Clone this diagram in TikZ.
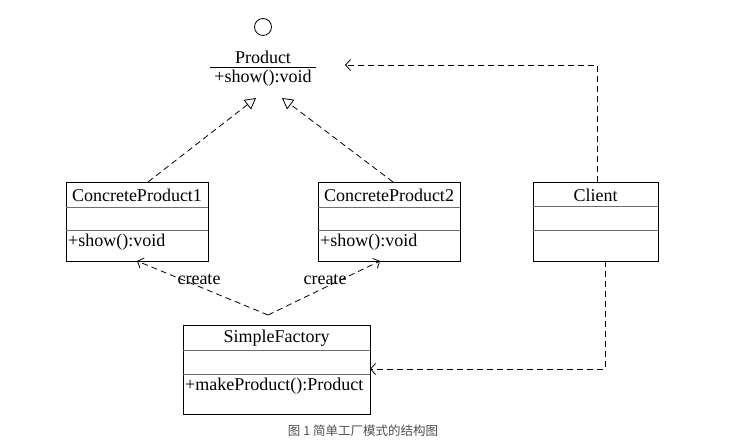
\documentclass[tikz,border=0pt]{standalone}
\usepackage{fontspec}
\setmainfont{Liberation Serif}
\newfontfamily\cjk{Noto Sans CJK SC}
\usetikzlibrary{arrows.meta}
\definecolor{capgray}{RGB}{80,80,80}
\definecolor{divgray}{RGB}{110,110,110}
\tikzset{
  clsbox/.style={draw, line width=0.9pt, rectangle, inner sep=0pt, anchor=north west},
  divline/.style={draw=divgray, line width=0.9pt},
  txt/.style={inner sep=0pt, font=\fontsize{18}{20}\selectfont},
  dep/.style={draw, line width=0.8pt, dash pattern=on 6pt off 4pt, -{Straight Barb[length=5pt,width=11pt,line width=0.8pt]}},
  real/.style={draw, line width=0.8pt, dash pattern=on 6pt off 4pt, -{Triangle[open,length=11pt,width=12pt,line width=0.8pt]}},
}
\begin{document}
\begin{tikzpicture}[x=1pt,y=-1pt]
\useasboundingbox[fill=white] (0,0) rectangle (752,446);

% Product interface (lollipop)
\node[draw, circle, line width=0.8pt, minimum size=17pt, inner sep=0pt] (prodcirc) at (263,27) {};
\node[txt] (prodname) at (263,57) {Product};
\coordinate (plineL) at (210,67);
\coordinate (plineR) at (316,67);
\draw[line width=0.9pt] (plineL) -- (plineR);
\node[txt] (prodop) at (263,78) {+show():void};
\coordinate (prodtipL) at (256,98);
\coordinate (prodtipR) at (282,98);
\coordinate (prodin) at (345,65);

% ConcreteProduct1
\node[clsbox, minimum width=142pt, minimum height=79pt] (cp1) at (66,182) {};
\draw[divline] (66,207) -- (208,207);
\draw[divline] (66,230) -- (208,230);
\node[txt] (cp1name) at (137,195) {ConcreteProduct1};
\node[txt, anchor=west] (cp1op) at (68,242) {+show():void};

% ConcreteProduct2
\node[clsbox, minimum width=142pt, minimum height=79pt] (cp2) at (318,182) {};
\draw[divline] (318,207) -- (460,207);
\draw[divline] (318,230) -- (460,230);
\node[txt] (cp2name) at (389,195) {ConcreteProduct2};
\node[txt, anchor=west] (cp2op) at (320,242) {+show():void};

% Client
\node[clsbox, minimum width=125pt, minimum height=79pt] (client) at (533,182) {};
\draw[divline] (533,206) -- (658,206);
\draw[divline] (533,230) -- (658,230);
\node[txt] (clientname) at (595.5,195) {Client};

% SimpleFactory
\node[clsbox, minimum width=187pt, minimum height=89pt] (sf) at (183,325) {};
\draw[divline] (183,350) -- (370,350);
\draw[divline] (183,374) -- (370,374);
\node[txt] (sfname) at (276.5,338) {SimpleFactory};
\node[txt, anchor=west] (sfop) at (185,386) {+makeProduct():Product};

% realization arrows
\coordinate (cp1top) at (148,182);
\coordinate (cp2top) at (393,182);
\path[real] (cp1top) -- (prodtipL);
\path[real] (cp2top) -- (prodtipR);

% create dependencies
\coordinate (sfsrc) at (268,315);
\coordinate (cp1bot) at (137,261);
\coordinate (cp2bot) at (380,261);
\path[dep] (sfsrc) -- (cp1bot);
\path[dep] (sfsrc) -- (cp2bot);
\node[txt] (create1) at (199,280) {create};
\node[txt] (create2) at (325,280) {create};

% client dependencies
\coordinate (cltop) at (597,182);
\coordinate (clbot) at (605,261);
\coordinate (sfin) at (370,369);
\path[dep] (cltop) -- (cltop |- prodin) -- (prodin);
\path[dep] (clbot) -- (clbot |- sfin) -- (sfin);

% caption
\node[inner sep=0pt, text=capgray, font=\cjk\fontsize{12.5}{14}\selectfont] (caption) at (363,431) {图 1 简单工厂模式的结构图};
\end{tikzpicture}
\end{document}
